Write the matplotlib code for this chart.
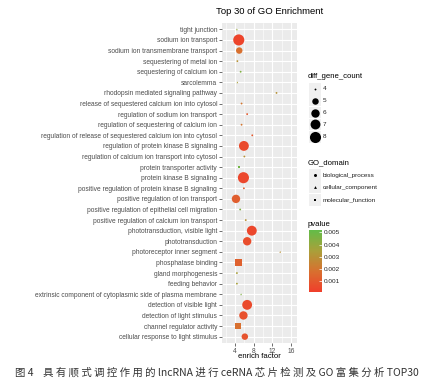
import numpy as np
import matplotlib.pyplot as plt
from matplotlib.colors import LinearSegmentedColormap, Normalize
from matplotlib.patches import Rectangle
from matplotlib.cm import ScalarMappable

# GO terms, top to bottom as shown
terms = [
    "tight junction",
    "sodium ion transport",
    "sodium ion transmembrane transport",
    "sequestering of metal ion",
    "sequestering of calcium ion",
    "sarcolemma",
    "rhodopsin mediated signaling pathway",
    "release of sequestered calcium ion into cytosol",
    "regulation of sodium ion transport",
    "regulation of sequestering of calcium ion",
    "regulation of release of sequestered calcium ion into cytosol",
    "regulation of protein kinase B signaling",
    "regulation of calcium ion transport into cytosol",
    "protein transporter activity",
    "protein kinase B signaling",
    "positive regulation of protein kinase B signaling",
    "positive regulation of ion transport",
    "positive regulation of epithelial cell migration",
    "positive regulation of calcium ion transport",
    "phototransduction, visible light",
    "phototransduction",
    "photoreceptor inner segment",
    "phosphatase binding",
    "gland morphogenesis",
    "feeding behavior",
    "extrinsic component of cytoplasmic side of plasma membrane",
    "detection of visible light",
    "detection of light stimulus",
    "channel regulator activity",
    "cellular response to light stimulus",
]
enrich = [4.4, 4.8, 4.9, 4.5, 5.2, 4.5, 12.9, 5.4, 6.6, 5.4,
          7.7, 5.9, 6.0, 4.9, 5.8, 5.9, 4.2, 5.1, 6.3, 7.6,
          6.6, 13.7, 4.8, 4.4, 4.4, 5.3, 6.6, 5.8, 4.6, 6.1]
counts = [4, 8, 5, 4, 4, 4, 4, 4, 4, 4,
          4, 7, 4, 4, 8, 4, 6, 4, 4, 7,
          6, 4, 6, 4, 4, 4, 7, 6, 5, 5]
pvals = [0.0040, 0.0003, 0.0018, 0.0030, 0.0045, 0.0035, 0.0030, 0.0020, 0.0010, 0.0020,
         0.0010, 0.0005, 0.0030, 0.0048, 0.0004, 0.0012, 0.0012, 0.0045, 0.0030, 0.0004,
         0.0006, 0.0030, 0.0013, 0.0035, 0.0035, 0.0045, 0.0005, 0.0007, 0.0018, 0.0008]
domains = ["cellular_component", "biological_process", "biological_process", "biological_process",
           "biological_process", "cellular_component", "biological_process", "biological_process",
           "biological_process", "biological_process", "biological_process", "biological_process",
           "biological_process", "molecular_function", "biological_process", "biological_process",
           "biological_process", "biological_process", "biological_process", "biological_process",
           "biological_process", "cellular_component", "molecular_function", "biological_process",
           "biological_process", "cellular_component", "biological_process", "biological_process",
           "molecular_function", "biological_process"]

count_levels = [4, 5, 6, 7, 8]
domain_levels = ["biological_process", "cellular_component", "molecular_function"]
pv_ticks = [0.001, 0.002, 0.003, 0.004, 0.005]

plt.rcParams['font.family'] = ['Liberation Sans', 'DejaVu Sans']

W, H = 428, 385
fig = plt.figure(figsize=(W / 100, H / 100), dpi=100)


def box(l, t, r, b):
    return [l / W, 1 - b / H, (r - l) / W, (b - t) / H]


def msize(c):
    g = 1 + np.sqrt((np.asarray(c, float) - 4) / 4) * 5
    return (1.85 * g * 0.72) ** 2


cmap = LinearSegmentedColormap.from_list('pv', ['#F03E2B', '#D8702F', '#A9A03A', '#62BC48'])
norm = Normalize(0.0001, 0.0052)
shapes = {"biological_process": 'o', "cellular_component": '^', "molecular_function": 's'}
scale = {'o': 1.0, '^': 0.9, 's': 0.75}

ax = fig.add_axes(box(222, 23, 297, 343))
ax.set_facecolor('#EBEBEB')
n = len(terms)
ypos = np.arange(n)[::-1]
x = np.array(enrich)
c = np.array(counts)
p = np.array(pvals)
for dom in domain_levels:
    idx = np.array([d == dom for d in domains])
    m = shapes[dom]
    ax.scatter(x[idx], ypos[idx], s=msize(c[idx]) * scale[m], c=p[idx], cmap=cmap, norm=norm,
               marker=m, linewidths=0, zorder=3)

ax.set_xlim(1.2, 17.3)
ax.set_ylim(-0.6, n - 0.4)
ax.set_xticks([4, 8, 12, 16])
ax.set_xticks([2, 6, 10, 14], minor=True)
ax.set_yticks(ypos)
ax.set_yticklabels(terms)
ax.grid(which='major', color='white', lw=0.8)
ax.grid(which='minor', axis='x', color='white', lw=0.4)
ax.set_axisbelow(True)
for s in ax.spines.values():
    s.set_visible(False)
ax.tick_params(which='major', length=2, width=0.5, color='#333333', labelsize=4.8,
               labelcolor='#4D4D4D', pad=1.5)
ax.tick_params(which='minor', length=0)

fig.text(270 / W, 1 - 12 / H, 'Top 30 of GO Enrichment', ha='center', va='center', size=6.8)
fig.text(259.5 / W, 1 - 357 / H, 'enrich factor', ha='center', va='center', size=5.6)

# legends drawn in pixel coordinates
lax = fig.add_axes([0, 0, 1, 1])
lax.set_xlim(0, W)
lax.set_ylim(H, 0)
lax.axis('off')

lax.text(308, 77, 'diff_gene_count', ha='left', va='center', size=5.6)
for v, yy in zip(count_levels, [89, 100.7, 112.5, 124.3, 137]):
    lax.add_patch(Rectangle((309, yy - 5.8), 12, 11.6, color='#F0F0F0', lw=0))
    lax.scatter([315], [yy], s=msize(v), color='black', lw=0)
    lax.text(322.5, yy, str(v), ha='left', va='center', size=4.6, color='#222222')

lax.text(308, 162.7, 'GO_domain', ha='left', va='center', size=5.6)
for dom, yy in zip(domain_levels, [175, 187.3, 199.7]):
    lax.add_patch(Rectangle((309, yy - 6), 12, 12, color='#F0F0F0', lw=0))
    m = shapes[dom]
    lax.scatter([315], [yy], s=(3.0 * 0.72) ** 2 * scale[m], marker=m, color='black', lw=0)
    lax.text(322.5, yy, dom, ha='left', va='center', size=4.6, color='#222222')

lax.text(308, 224.3, 'pvalue', ha='left', va='center', size=5.6)
cax = fig.add_axes(box(309, 230, 322, 292))
cb = fig.colorbar(ScalarMappable(norm=norm, cmap=cmap), cax=cax)
cb.outline.set_visible(False)
cb.set_ticks(pv_ticks)
cb.set_ticklabels([f'{t:.3f}' for t in pv_ticks])
cax.tick_params(direction='in', color='white', length=2.5, width=0.5, labelsize=4.6,
                labelcolor='#222222', pad=1.5)

fig.text(15 / W, 1 - 372 / H,
         '图 4    具 有 顺 式 调 控 作 用 的 lncRNA 进 行 ceRNA 芯 片 检 测 及 GO 富 集 分 析 TOP30',
         ha='left', va='center', size=7.5, color='#333333',
         family=['Noto Sans CJK SC', 'DejaVu Sans'])

fig.savefig('out.png', dpi=100)
